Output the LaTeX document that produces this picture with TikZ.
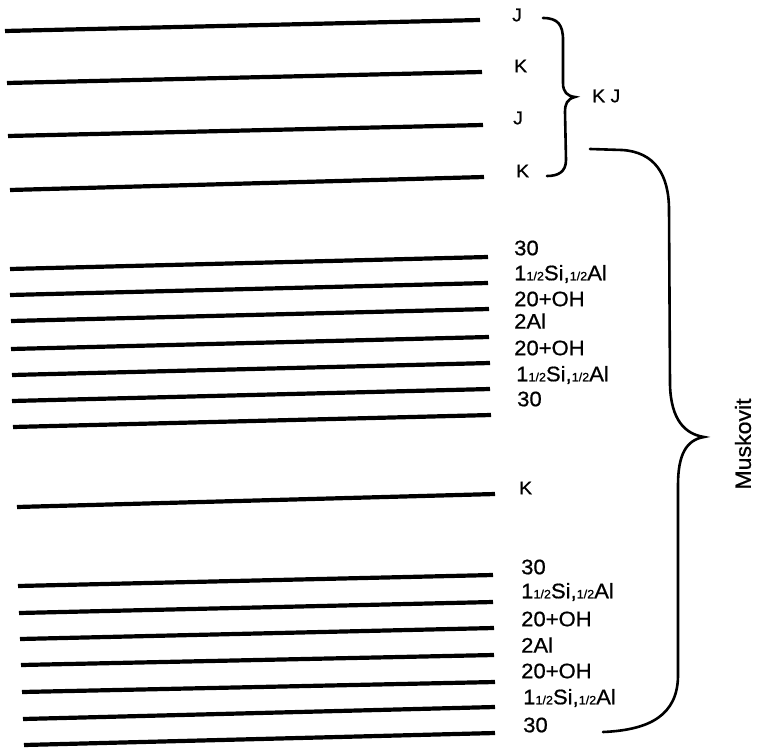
\documentclass[tikz,border=0pt]{standalone}
\usepackage{fontspec}
\setmainfont{Liberation Sans}[FakeStretch=1.05,FakeBold=0.8]
\newcommand{\hfrac}{{\fontsize{12}{12}\selectfont 1/2}}
\newcommand{\sial}{1\hfrac Si,\hfrac Al}
\begin{document}
\begin{tikzpicture}[x=1pt,y=-1pt,
  layer/.style={line width=4.2pt},
  brace/.style={line width=2.6pt, line cap=round},
  lab/.style={anchor=west, inner sep=0pt, font=\fontsize{21}{21}\selectfont},
  ion/.style={anchor=west, inner sep=0pt, font=\fontsize{18.5}{18.5}\selectfont}]
\useasboundingbox (0,0) rectangle (759,749);
% top group
\draw[layer] (5,31) -- (480,20);
\draw[layer] (7,83) -- (482,72);
\draw[layer] (8,136) -- (483,125);
\draw[layer] (10,190) -- (484,177);
\node[ion] (j1) at (512,15) {J};
\node[ion] (k1) at (514,66) {K};
\node[ion] (j2) at (513,118) {J};
\node[ion] (k2) at (516,171) {K};
\draw[brace] (543,18) .. controls (558,18) and (563,25) .. (563,40) -- (563,83) .. controls (563,92) and (567,96) .. (575,97) .. controls (567,99) and (565,104) .. (565,112) -- (566,160) .. controls (566,172) and (558,176) .. (547,176);
\node[ion] (kj) at (592,96) {K J};
% middle group
\draw[layer] (10,269) -- (488,257);
\draw[layer] (10,295) -- (488,283);
\draw[layer] (11,321) -- (489,309);
\draw[layer] (11,349) -- (489,337);
\draw[layer] (12,375) -- (490,363);
\draw[layer] (12,401) -- (490,389);
\draw[layer] (13,427) -- (491,415);
\node[lab] (m1) at (514,248) {30};
\node[lab] (m2) at (514,274) {\sial};
\node[lab] (m3) at (514,299) {20+OH};
\node[lab] (m4) at (514,321) {2Al};
\node[lab] (m5) at (514,348) {20+OH};
\node[lab] (m6) at (516,375) {\sial};
\node[lab] (m7) at (517,399) {30};
% single K layer
\draw[layer] (17,507) -- (495,494);
\node[ion] (k3) at (519,488) {K};
% bottom group
\draw[layer] (18,586) -- (493,575);
\draw[layer] (19,613) -- (493,602);
\draw[layer] (20,639) -- (494,628);
\draw[layer] (21,665) -- (494,655);
\draw[layer] (22,692) -- (495,682);
\draw[layer] (23,719) -- (495,707);
\draw[layer] (24,745) -- (495,733);
\node[lab] (b1) at (521,567) {30};
\node[lab] (b2) at (521,592) {\sial};
\node[lab] (b3) at (521,619) {20+OH};
\node[lab] (b4) at (521,645) {2Al};
\node[lab] (b5) at (521,671) {20+OH};
\node[lab] (b6) at (523,698) {\sial};
\node[lab] (b7) at (523,725) {30};
% Muskovit brace
\draw[brace] (590,149) -- (622,150) .. controls (655,152) and (669,175) .. (669,210) -- (670,385) .. controls (671,420) and (685,434) .. (704,437) .. controls (686,440) and (678,455) .. (678,485) -- (678,675) .. controls (678,715) and (650,730) .. (603,732);
\node[rotate=90, inner sep=0pt, font=\fontsize{22}{22}\selectfont] (musk) at (743,444) {Muskovit};
\end{tikzpicture}
\end{document}
